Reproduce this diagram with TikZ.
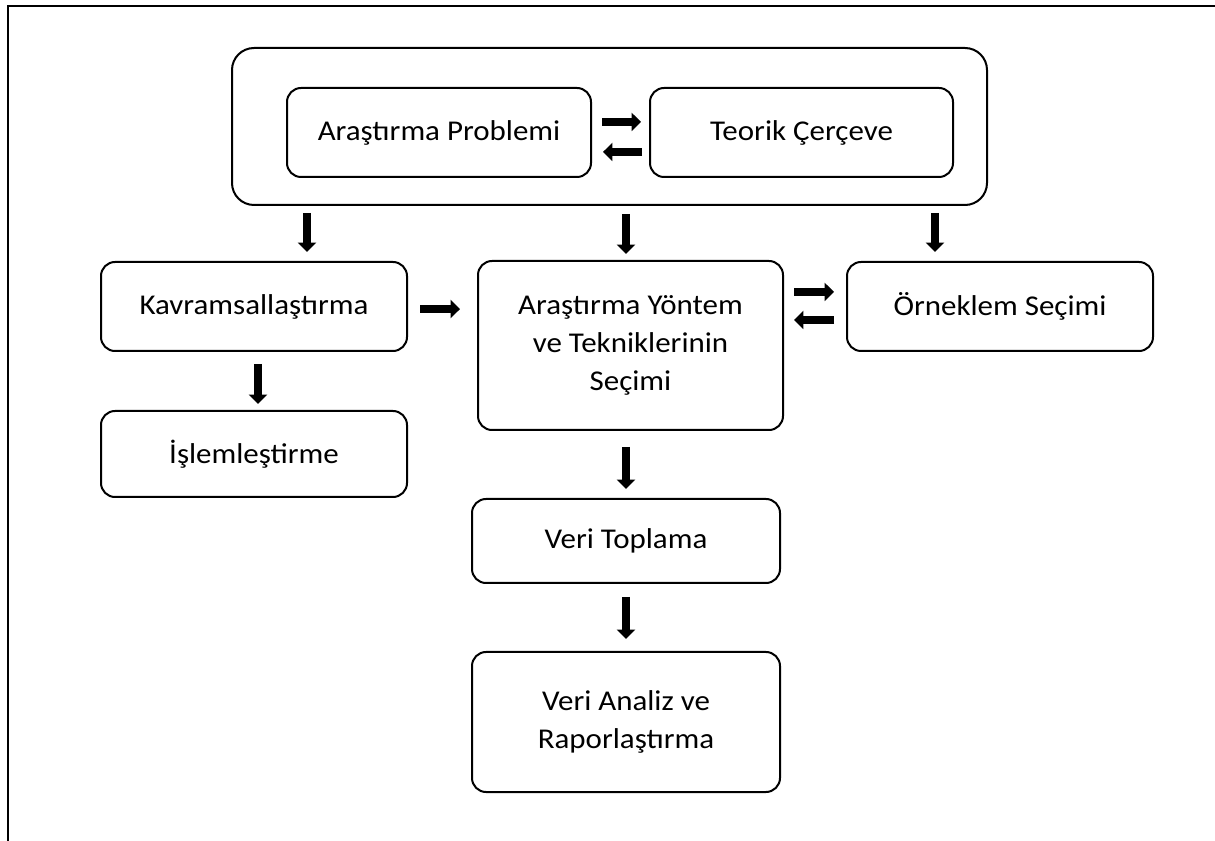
\documentclass[tikz,border=0pt]{standalone}
\usepackage{fontspec}
\setmainfont{Carlito}[FakeStretch=1.08]
\usetikzlibrary{arrows.meta}
\begin{document}
\begin{tikzpicture}[x=0.75pt,y=-0.75pt,
  every node/.style={font=\fontsize{21.5pt}{28.7pt}\selectfont, align=center},
  box/.style={draw, line width=1.5pt, rounded corners=10.5pt, inner sep=0pt},
  bigbox/.style={draw, line width=1.5pt, rounded corners=16.5pt, inner sep=0pt},
  blk/.style={line width=6pt, -{Triangle[length=7pt,width=13.5pt]}},
  frameline/.style={line width=1.5pt}]
\useasboundingbox (0,0) rectangle (1215,841);

% page frame (top and left edges)
\coordinate (tl) at (8,6);
\draw[frameline] (1215,6) -- (tl) -- (8,841);

% top group
\node[bigbox, minimum width=755*0.75pt, minimum height=157*0.75pt] (outer) at (609.5,126.5) {};
\node[box, minimum width=304*0.75pt, minimum height=89*0.75pt] (prob) at (439,132.5) {Araştırma Problemi};
\node[box, minimum width=303*0.75pt, minimum height=89*0.75pt] (teo) at (801.5,132.5) {Teorik Çerçeve};

% middle row
\node[box, minimum width=306*0.75pt, minimum height=89*0.75pt] (kav) at (254,306.5) {Kavramsallaştırma};
\node[box, minimum width=305*0.75pt, minimum height=169*0.75pt] (yon) at (630.5,345.5) {Araştırma Yöntem\\ve Tekniklerinin\\Seçimi};
\node[box, minimum width=306*0.75pt, minimum height=89*0.75pt] (orn) at (1000,306.5) {Örneklem Seçimi};
\node[box, minimum width=306*0.75pt, minimum height=86*0.75pt] (isl) at (254,454) {İşlemleştirme};

% lower column
\node[box, minimum width=308*0.75pt, minimum height=84*0.75pt] (veri) at (626,541) {Veri Toplama};
\node[box, minimum width=308*0.75pt, minimum height=140*0.75pt] (ana) at (626,722) {Veri Analiz ve\\Raporlaştırma};

% two-way arrows in the top group
\draw[blk, shorten <=7.5pt, shorten >=6pt] ([yshift=7.9pt]prob.east) -- ([yshift=7.9pt]prob.east -| teo.west);
\draw[blk, shorten <=5.25pt, shorten >=8.25pt] ([yshift=-14.6pt]teo.west) -- ([yshift=-14.6pt]teo.west -| prob.east);

% arrows leaving the top group
\draw[blk, shorten <=5.25pt, shorten >=6.75pt] ([xshift=39.75pt]kav.north |- outer.south) -- ([xshift=39.75pt]kav.north);
\draw[blk, shorten <=6pt, shorten >=4.5pt] ([xshift=-3.4pt]yon.north |- outer.south) -- ([xshift=-3.4pt]yon.north);
\draw[blk, shorten <=5.25pt, shorten >=6.75pt] ([xshift=-48.75pt]orn.north |- outer.south) -- ([xshift=-48.75pt]orn.north);

% middle row arrows
\draw[blk, shorten <=9pt, shorten >=12.75pt] ([yshift=-1.9pt]kav.east) -- ([yshift=-1.9pt]kav.east -| yon.west);
\draw[blk, shorten <=7.5pt, shorten >=9pt] ([yshift=10.9pt]orn.west -| yon.east) -- ([yshift=10.9pt]orn.west);
\draw[blk, shorten <=9pt, shorten >=7.5pt] ([yshift=-10.1pt]orn.west) -- ([yshift=-10.1pt]orn.west -| yon.east);
\draw[blk, shorten <=9pt, shorten >=4.5pt] ([xshift=3pt]kav.south) -- ([xshift=3pt]kav.south |- isl.north);

% lower column arrows
\draw[blk, shorten <=12pt, shorten >=6.75pt] (yon.south -| veri.north) -- (veri.north);
\draw[blk, shorten <=9.75pt, shorten >=9pt] (veri.south) -- (ana.north);
\end{tikzpicture}
\end{document}
